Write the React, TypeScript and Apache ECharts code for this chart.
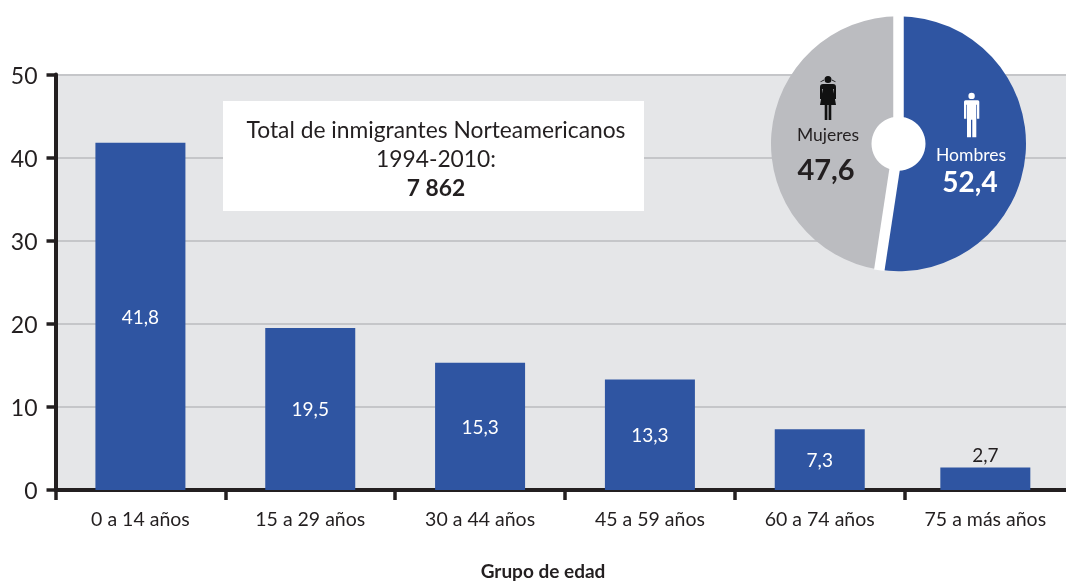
import React, { useEffect, useRef } from "react";
import * as echarts from "echarts";

const categories = ["0 a 14 años", "15 a 29 años", "30 a 44 años", "45 a 59 años", "60 a 74 años", "75 a más años"];
const values = [41.8, 19.5, 15.3, 13.3, 7.3, 2.7];
const binEdges = [0, 1, 2, 3, 4, 5, 5.95];
const yTicks = [0, 10, 20, 30, 40, 50];
const sexLabels = ["Hombres", "Mujeres"];
const sexValues = [52.4, 47.6];
const boxLines = ["Total de inmigrantes Norteamericanos", "1994-2010:"];
const boxTotal = "7 862";
const axisTitle = "Grupo de edad";

const FONT = "Lato";
const INK = "#231f20";
const BLUE = "#2f55a2";
const GREY = "#bbbcc0";

const comma = (v: number) => String(v).replace(".", ",");
const mids = categories.map((_, i) => (binEdges[i] + binEdges[i + 1]) / 2);

const MAN =
  "M4.4 3.2a3.2 3.2 0 1 0 6.4 0a3.2 3.2 0 1 0 -6.4 0Z" +
  "M1.5 7.5H13.8Q15.3 7.5 15.3 9V26H13V12H12.3V44.6H8.3V27H7V44.6H3V12H2.3V26H0V9Q0 7.5 1.5 7.5Z";
const WOMAN =
  "M4.5 3.6a3.5 3.5 0 1 0 7 0a3.5 3.5 0 1 0 -7 0Z" +
  "M0.5 5.5L4 3.6V4.4L0.5 6.3ZM15.5 5.5L12 3.6V4.4L15.5 6.3Z" +
  "M3 8H13Q16 8 16 11V23H14V13H13.2L16 29H11.3V44H8.6V29H7.4V44H4.7V29H0L2.8 13H2V23H0V11Q0 8 3 8Z";
echarts.graphic.registerShape("manIcon", echarts.graphic.extendPath(MAN, {}));
echarts.graphic.registerShape("womanIcon", echarts.graphic.extendPath(WOMAN, {}));

const PIE_X = 898.5;
const PIE_Y = 143.7;
const PIE_R = 127.5;

function gapLine(deg: number, z: number) {
  const a = (deg * Math.PI) / 180;
  return {
    type: "line",
    z,
    shape: { x1: PIE_X, y1: PIE_Y, x2: PIE_X + Math.sin(a) * (PIE_R + 0.5), y2: PIE_Y - Math.cos(a) * (PIE_R + 0.5) },
    style: { stroke: "#ffffff", lineWidth: 10.5 },
  };
}

export default function App() {
  const ref = useRef<HTMLDivElement>(null);
  useEffect(() => {
    const chart = echarts.init(ref.current!, undefined, { renderer: "svg" });
    const centerText = (text: string, x: number, y: number, size: number, fill: string, weight = "normal") => ({
      type: "text",
      z: 30,
      x,
      y,
      style: { text, fill, fontFamily: FONT, fontSize: size, fontWeight: weight, align: "center", verticalAlign: "middle" },
    });
    chart.setOption({
      animation: false,
      textStyle: { fontFamily: FONT },
      grid: {
        left: 55.5,
        top: 74.5,
        width: 170 * 5.95,
        height: 415.5,
        show: true,
        backgroundColor: "#e5e6e8",
        borderWidth: 0,
      },
      xAxis: {
        type: "value",
        min: 0,
        max: binEdges[binEdges.length - 1],
        axisLine: { show: true, lineStyle: { color: INK, width: 4 } },
        axisTick: { show: true, length: 10, customValues: binEdges.slice(0, 6), lineStyle: { color: INK, width: 3.5 } },
        splitLine: { show: false },
        axisLabel: {
          customValues: mids,
          margin: 18,
          fontFamily: FONT,
          fontSize: 19.5,
          color: INK,
          formatter: (v: number) => categories[mids.findIndex((m) => Math.abs(m - v) < 1e-6)] ?? "",
        },
      },
      yAxis: {
        type: "value",
        min: 0,
        max: 50,
        interval: 10,
        axisLine: { show: true, lineStyle: { color: INK, width: 4 } },
        axisTick: { show: true, length: 9, lineStyle: { color: INK, width: 3.5 } },
        splitLine: { show: true, lineStyle: { color: "#c5c6c9", width: 2 } },
        axisLabel: {
          margin: 18,
          fontFamily: FONT,
          fontSize: 23,
          color: INK,
          formatter: (v: number) => (yTicks.includes(v) ? String(v) : ""),
        },
      },
      series: [
        {
          type: "bar",
          barWidth: 90,
          z: 3,
          itemStyle: { color: BLUE },
          data: values.map((v, i) => ({
            value: [mids[i], v],
            label:
              v < 5
                ? { show: true, position: "top", distance: 4, color: INK }
                : { show: true, position: "inside", color: "#ffffff" },
          })),
          label: {
            fontFamily: FONT,
            fontSize: 19,
            formatter: (p: any) => comma(p.value[1]),
          },
        },
        {
          type: "pie",
          z: 10,
          center: [PIE_X, PIE_Y],
          radius: [0, PIE_R],
          startAngle: 90,
          clockwise: true,
          label: { show: false },
          labelLine: { show: false },
          silent: true,
          data: [
            { name: sexLabels[0], value: sexValues[0], itemStyle: { color: BLUE } },
            { name: sexLabels[1], value: sexValues[1], itemStyle: { color: GREY } },
          ],
        },
      ],
      graphic: [
        gapLine(0, 20),
        gapLine((sexValues[0] / (sexValues[0] + sexValues[1])) * 360, 20),
        { type: "circle", z: 21, shape: { cx: PIE_X, cy: PIE_Y, r: 27 }, style: { fill: "#ffffff" } },
        { type: "manIcon", z: 30, x: 964, y: 92.7, style: { fill: "#ffffff" } },
        { type: "womanIcon", z: 30, x: 820, y: 76, style: { fill: "#111111" } },
        centerText(sexLabels[1], 828, 134, 17.5, INK),
        centerText(comma(sexValues[1]), 826, 168, 29, INK, "bold"),
        centerText(sexLabels[0], 971, 154, 17.5, "#ffffff"),
        centerText(comma(sexValues[0]), 970, 181, 28, "#ffffff", "bold"),
        { type: "rect", z: 25, shape: { x: 223, y: 101, width: 421, height: 110 }, style: { fill: "#ffffff" } },
        centerText(boxLines[0], 436, 128.5, 22.8, INK),
        centerText(boxLines[1], 436, 158, 22.8, INK),
        centerText(boxTotal, 436, 187, 22.8, INK, "bold"),
        centerText(axisTitle, 543, 570.5, 19, INK, "bold"),
      ],
    });
    return () => chart.dispose();
  }, []);
  return <div ref={ref} style={{ position: "fixed", left: 0, top: 0, width: 1066, height: 581 }} />;
}
